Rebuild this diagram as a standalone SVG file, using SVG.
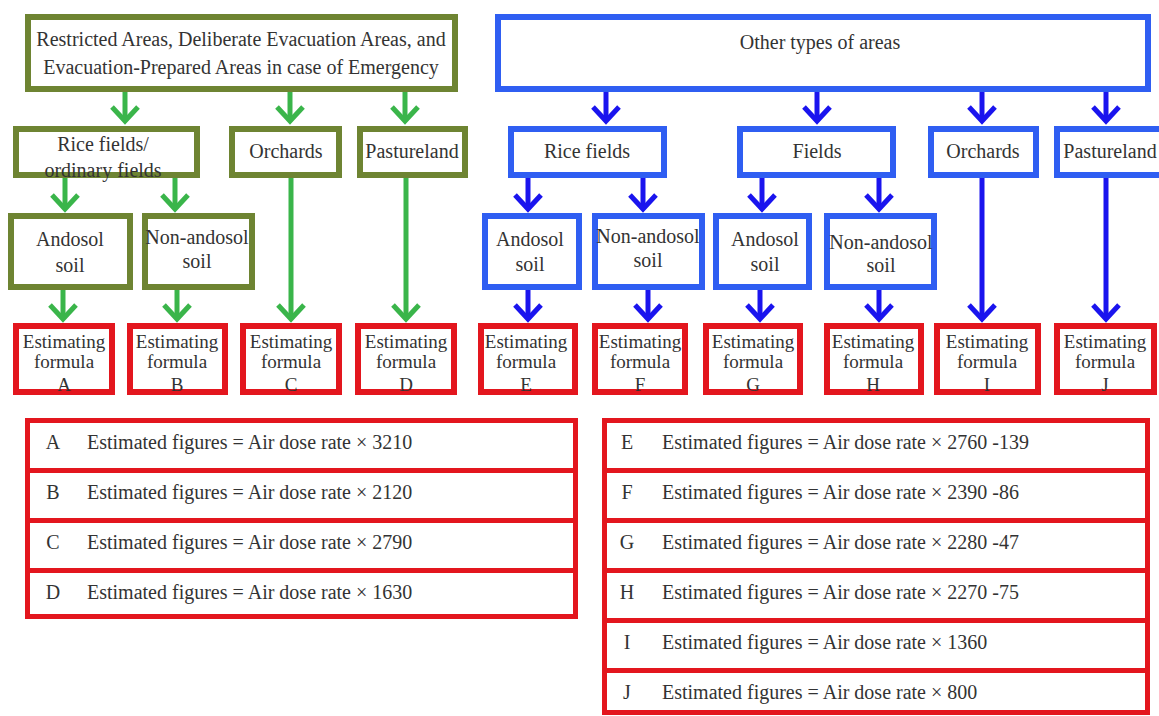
<svg xmlns="http://www.w3.org/2000/svg" width="1159" height="716" viewBox="0 0 1159 716" font-family="'Liberation Serif', 'Times New Roman', serif">
<style>
text{font-family:"Liberation Serif","Times New Roman",serif;font-size:20px;fill:#333;text-anchor:middle}
text.f{font-size:19px}
.g{fill:#fff;stroke:#6E8432;stroke-width:6}
.b{fill:#fff;stroke:#2F5EF2;stroke-width:6}
.r{fill:#fff;stroke:#E3161E;stroke-width:6}
.t{fill:#fff;stroke:#E3161E;stroke-width:5}
.ga{fill:none;stroke:#3AB54A;stroke-width:5}
.ba{fill:none;stroke:#1A14EE;stroke-width:5}
text.l{text-anchor:start}
</style>
<defs>
<marker id="mg" markerUnits="userSpaceOnUse" viewBox="-20 -16 26 32" markerWidth="26" markerHeight="32" refX="0" refY="0" orient="auto" overflow="visible"><path d="M-14,-13 L0,0 L-14,13" fill="none" stroke="#3AB54A" stroke-width="5"/></marker>
<marker id="mb" markerUnits="userSpaceOnUse" viewBox="-20 -16 26 32" markerWidth="26" markerHeight="32" refX="0" refY="0" orient="auto" overflow="visible"><path d="M-14,-13 L0,0 L-14,13" fill="none" stroke="#1A14EE" stroke-width="5"/></marker>
</defs>
<rect width="1159" height="716" fill="#fff"/>

<g id="connectors">
<g class="ga" marker-end="url(#mg)">
<path d="M125,92 V121"/>
<path d="M290,92 V121"/>
<path d="M405,92 V121"/>
<path d="M65,178 V209"/>
<path d="M175,178 V209"/>
<path d="M63,290 V319"/>
<path d="M177,290 V319"/>
<path d="M291,178 V319"/>
<path d="M406,178 V319"/>
</g>
<g class="ba" marker-end="url(#mb)">
<path d="M606,92 V121"/>
<path d="M817,92 V121"/>
<path d="M982,92 V121"/>
<path d="M1106,92 V121"/>
<path d="M528,178 V209"/>
<path d="M643,178 V209"/>
<path d="M762,178 V209"/>
<path d="M879,178 V209"/>
<path d="M528,290 V319"/>
<path d="M648,290 V319"/>
<path d="M760,290 V319"/>
<path d="M879,290 V319"/>
<path d="M982,178 V319"/>
<path d="M1106,178 V319"/>
</g>
</g>

<g id="restricted"><rect class="g" x="28" y="17" width="427" height="72"/>
<text x="241" y="46">Restricted Areas, Deliberate Evacuation Areas, and</text>
<text x="241" y="74">Evacuation-Prepared Areas in case of Emergency</text></g>
<g id="g-rice"><rect class="g" x="16" y="129" width="181" height="46"/>
<text x="103" y="151">Rice fields/</text><text x="103" y="177">ordinary fields</text></g>
<g id="g-orchards"><rect class="g" x="232" y="129" width="107" height="46"/><text x="286" y="158">Orchards</text></g>
<g id="g-pasture"><rect class="g" x="360" y="129" width="105" height="46"/><text x="412" y="158">Pastureland</text></g>
<g id="g-andosol"><rect class="g" x="11" y="216" width="119" height="71"/><text x="70" y="246">Andosol</text><text x="70" y="272">soil</text></g>
<g id="g-nonandosol"><rect class="g" x="145" y="216" width="107" height="71"/><text x="197" y="244">Non-andosol</text><text x="197" y="268">soil</text></g>

<g id="f-A"><rect class="r" x="16" y="326" width="96" height="66"/><text class="f" x="64" y="348">Estimating</text><text class="f" x="64" y="368">formula</text><text class="f" x="64" y="391">A</text></g>
<g id="f-B"><rect class="r" x="130" y="326" width="95" height="66"/><text class="f" x="177" y="348">Estimating</text><text class="f" x="177" y="368">formula</text><text class="f" x="177" y="391">B</text></g>
<g id="f-C"><rect class="r" x="243" y="326" width="96" height="66"/><text class="f" x="291" y="348">Estimating</text><text class="f" x="291" y="368">formula</text><text class="f" x="291" y="391">C</text></g>
<g id="f-D"><rect class="r" x="358" y="326" width="96" height="66"/><text class="f" x="406" y="348">Estimating</text><text class="f" x="406" y="368">formula</text><text class="f" x="406" y="391">D</text></g>

<g id="other"><rect class="b" x="498" y="17" width="650" height="72"/><text x="820" y="49">Other types of areas</text></g>
<g id="b-rice"><rect class="b" x="511" y="129" width="153" height="46"/><text x="587" y="158">Rice fields</text></g>
<g id="b-fields"><rect class="b" x="740" y="129" width="153" height="46"/><text x="817" y="158">Fields</text></g>
<g id="b-orchards"><rect class="b" x="931" y="129" width="105" height="46"/><text x="983" y="158">Orchards</text></g>
<g id="b-pasture"><rect class="b" x="1057" y="129" width="106" height="46"/><text x="1110" y="158">Pastureland</text></g>
<g id="b-andosol1"><rect class="b" x="485" y="216" width="94" height="71"/><text x="530" y="246">Andosol</text><text x="530" y="271">soil</text></g>
<g id="b-nonandosol1"><rect class="b" x="595" y="216" width="107" height="71"/><text x="648" y="243">Non-andosol</text><text x="648" y="267">soil</text></g>
<g id="b-andosol2"><rect class="b" x="716" y="216" width="93" height="71"/><text x="765" y="246">Andosol</text><text x="765" y="271">soil</text></g>
<g id="b-nonandosol2"><rect class="b" x="827" y="216" width="107" height="71"/><text x="881" y="249">Non-andosol</text><text x="881" y="272">soil</text></g>

<g id="f-E"><rect class="r" x="481" y="326" width="94" height="66"/><text class="f" x="526" y="348">Estimating</text><text class="f" x="526" y="368">formula</text><text class="f" x="526" y="391">E</text></g>
<g id="f-F"><rect class="r" x="595" y="326" width="90" height="66"/><text class="f" x="640" y="348">Estimating</text><text class="f" x="640" y="368">formula</text><text class="f" x="640" y="391">F</text></g>
<g id="f-G"><rect class="r" x="706" y="326" width="94" height="66"/><text class="f" x="753" y="348">Estimating</text><text class="f" x="753" y="368">formula</text><text class="f" x="753" y="391">G</text></g>
<g id="f-H"><rect class="r" x="827" y="326" width="94" height="66"/><text class="f" x="873" y="348">Estimating</text><text class="f" x="873" y="368">formula</text><text class="f" x="873" y="391">H</text></g>
<g id="f-I"><rect class="r" x="937" y="326" width="101" height="66"/><text class="f" x="987" y="348">Estimating</text><text class="f" x="987" y="368">formula</text><text class="f" x="987" y="391">I</text></g>
<g id="f-J"><rect class="r" x="1057" y="326" width="97" height="66"/><text class="f" x="1105" y="348">Estimating</text><text class="f" x="1105" y="368">formula</text><text class="f" x="1105" y="391">J</text></g>

<g id="table-left">
<rect class="t" x="27.5" y="420.5" width="548" height="50"/>
<rect class="t" x="27.5" y="470.5" width="548" height="50"/>
<rect class="t" x="27.5" y="520.5" width="548" height="50"/>
<rect class="t" x="27.5" y="570.5" width="548" height="46"/>
<text x="53" y="449">A</text><text class="l" x="87" y="449">Estimated figures = Air dose rate × 3210</text>
<text x="53" y="499">B</text><text class="l" x="87" y="499">Estimated figures = Air dose rate × 2120</text>
<text x="53" y="549">C</text><text class="l" x="87" y="549">Estimated figures = Air dose rate × 2790</text>
<text x="53" y="599">D</text><text class="l" x="87" y="599">Estimated figures = Air dose rate × 1630</text>
</g>
<g id="table-right">
<rect class="t" x="604.5" y="420.5" width="543" height="50"/>
<rect class="t" x="604.5" y="470.5" width="543" height="50"/>
<rect class="t" x="604.5" y="520.5" width="543" height="50"/>
<rect class="t" x="604.5" y="570.5" width="543" height="50"/>
<rect class="t" x="604.5" y="620.5" width="543" height="50"/>
<rect class="t" x="604.5" y="670.5" width="543" height="42"/>
<text x="627" y="449">E</text><text class="l" x="662" y="449">Estimated figures = Air dose rate × 2760 -139</text>
<text x="627" y="499">F</text><text class="l" x="662" y="499">Estimated figures = Air dose rate × 2390 -86</text>
<text x="627" y="549">G</text><text class="l" x="662" y="549">Estimated figures = Air dose rate × 2280 -47</text>
<text x="627" y="599">H</text><text class="l" x="662" y="599">Estimated figures = Air dose rate × 2270 -75</text>
<text x="627" y="649">I</text><text class="l" x="662" y="649">Estimated figures = Air dose rate × 1360</text>
<text x="627" y="699">J</text><text class="l" x="662" y="699">Estimated figures = Air dose rate × 800</text>
</g>
</svg>
